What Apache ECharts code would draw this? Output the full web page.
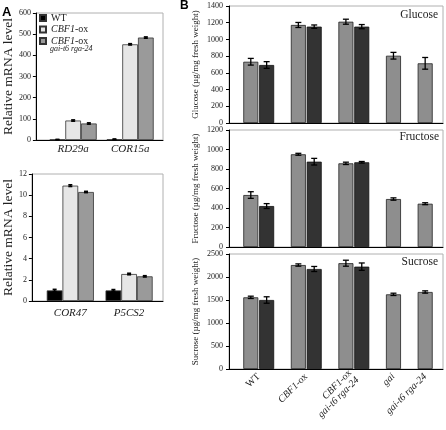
<!DOCTYPE html>
<html><head><meta charset="utf-8">
<script src="https://cdn.jsdelivr.net/npm/echarts@6/dist/echarts.min.js"></script>
<style>html,body{margin:0;padding:0;background:#fff}#c{width:446px;height:430px}</style>
</head><body><div id="c"></div>
<script>
// ---------- Panel A data ----------
const genesTop = ['RD29a', 'COR15a'];
const genesBottom = ['COR47', 'P5CS2'];
const seriesNamesA = ['WT', 'CBF1-ox', 'CBF1-ox gai-t6 rga-24'];
const topWT = [2, 3];
const topCBF = [92, 452];
const topCBFgai = [78, 484];
const topWTErr = [1, 2];
const topCBFErr = [3, 3];
const topCBFgaiErr = [3, 3];
const botWT = [1.0, 1.0];
const botCBF = [10.9, 2.55];
const botCBFgai = [10.3, 2.33];
const botWTErr = [0.1, 0.08];
const botCBFErr = [0.08, 0.07];
const botCBFgaiErr = [0.06, 0.06];
const ticksATop = [0, 100, 200, 300, 400, 500, 600];
const ticksABottom = [0, 2, 4, 6, 8, 10, 12];

// ---------- Panel B data ----------
const genotypes = ['WT', 'CBF1-ox', 'CBF1-ox\ngai-t6 rga-24', 'gai', 'gai-t6 rga-24'];
const glucoseLight = [733, 1173, 1212, 805, 714];
const glucoseLightErr = [40, 30, 30, 40, 70];
const glucoseDark = [694, 1153, 1153];
const glucoseDarkErr = [40, 20, 25];
const fructoseLight = [533, 951, 858, 492, 444];
const fructoseLightErr = [34, 10, 12, 12, 10];
const fructoseDark = [420, 875, 869];
const fructoseDarkErr = [25, 34, 8];
const sucroseLight = [1558, 2260, 2300, 1623, 1674];
const sucroseLightErr = [25, 25, 65, 25, 25];
const sucroseDark = [1500, 2174, 2225];
const sucroseDarkErr = [70, 55, 80];
const ticksGlucose = [0, 200, 400, 600, 800, 1000, 1200, 1400];
const ticksFructose = [0, 200, 400, 600, 800, 1000, 1200];
const ticksSucrose = [0, 500, 1000, 1500, 2000, 2500];

// ---------- layout (slot grids on category axes) ----------
const slotsA = 29, geneSlot = [8, 21];
const slotsB = 54, lightSlot = [5, 17, 29, 41, 49], darkSlot = [9, 21, 33], labelSlot = [7, 19, 31, 41, 49];
const barWA = 15.7, barWB = 15;
const SERIF = 'Liberation Serif';

function slotCats(n) { return Array.from({length: n}, (_, i) => 's' + i); }
function spread(n, slots, vals) { const a = Array(n).fill('-'); slots.forEach((s, i) => { if (i < vals.length) a[s] = vals[i]; }); return a; }
function errData(slots, vals, errs) { return vals.map((v, i) => [slots[i], v, errs[i]]); }
function richName(s) {
  return s.split('\n').map(line => {
    if (line === 'WT') return '{n|WT}';
    return line.replace(/CBF1-ox/, '{i|CBF1}{n|-ox}').replace(/^(?!\{)(.*)$/, '{i|$1}');
  }).join('\n');
}
function errRender(offset, cap, lw) {
  return function (params, api) {
    const x = api.value(0), v = api.value(1), e = api.value(2);
    const t = api.coord([x, v + e]), b = api.coord([x, v - e]);
    const cx = t[0] + offset;
    const st = {stroke: '#000', lineWidth: lw};
    return {type: 'group', children: [
      {type: 'line', shape: {x1: cx, y1: t[1], x2: cx, y2: b[1]}, style: st},
      {type: 'line', shape: {x1: cx - cap / 2, y1: t[1], x2: cx + cap / 2, y2: t[1]}, style: st},
      {type: 'line', shape: {x1: cx - cap / 2, y1: b[1], x2: cx + cap / 2, y2: b[1]}, style: st}
    ]};
  };
}

const gridBase = {show: true, borderColor: '#b0b0b0', borderWidth: 1, backgroundColor: 'transparent'};
const grids = [
  Object.assign({left: 30, top: 13, width: 133, height: 127}, gridBase),
  Object.assign({left: 30, top: 174, width: 133, height: 127}, gridBase),
  Object.assign({left: 229, top: 6, width: 214, height: 117}, gridBase),
  Object.assign({left: 229, top: 130, width: 214, height: 117}, gridBase),
  Object.assign({left: 229, top: 254, width: 214, height: 115}, gridBase)
];

const axisLine = {show: true, lineStyle: {color: '#000', width: 1}};
function yAx(gi, ticks, name, nameSize, nameGap, labelMargin, labelSize) {
  return {type: 'value', gridIndex: gi, min: ticks[0], max: ticks[ticks.length - 1], interval: ticks[1] - ticks[0],
    axisLine: axisLine, axisTick: {show: true, length: 3, lineStyle: {color: '#000'}}, splitLine: {show: false},
    axisLabel: {fontFamily: SERIF, fontSize: labelSize, color: '#222', margin: labelMargin, formatter: v => String(v)},
    name: name, nameLocation: 'middle', nameGap: nameGap,
    nameTextStyle: {fontFamily: SERIF, fontSize: nameSize, color: '#222'}};
}
const richStyles = {
  n: {fontFamily: SERIF, fontStyle: 'normal', fontSize: 10, color: '#222'},
  i: {fontFamily: SERIF, fontStyle: 'italic', fontSize: 10, color: '#222'},
  s: {fontFamily: SERIF, fontStyle: 'italic', fontSize: 8, color: '#222'}
};
function xAxA(gi, genes, margin) {
  return {type: 'category', gridIndex: gi, data: slotCats(slotsA), axisLine: axisLine, axisTick: {show: false},
    axisLabel: {interval: 0, margin: margin, fontFamily: SERIF, fontStyle: 'italic', fontSize: 11, color: '#222',
      formatter: (v, idx) => { const k = geneSlot.indexOf(idx); return k >= 0 ? genes[k] : ''; }}};
}
function xAxB(gi, showLabels) {
  return {type: 'category', gridIndex: gi, data: slotCats(slotsB), axisLine: axisLine, axisTick: {show: false},
    axisLabel: {show: showLabels, interval: 0, rotate: 45, margin: 6, fontFamily: SERIF, fontSize: 10, color: '#222',
      lineHeight: 10, rich: richStyles,
      formatter: (v, idx) => { const k = labelSlot.indexOf(idx); return k >= 0 ? richName(genotypes[k]) : ''; }}};
}

const colorsA = ['#000000', '#e6e6e6', '#9a9a9a'];
const series = [];
function addA(gi, vals, errs) {
  vals.forEach((arr, si) => {
    series.push({type: 'bar', name: seriesNamesA[si], xAxisIndex: gi, yAxisIndex: gi, barWidth: barWA, barGap: '0%',
      data: spread(slotsA, geneSlot, arr),
      itemStyle: {color: colorsA[si], borderColor: '#333', borderWidth: 0.8}});
  });
  errs.forEach((arr, si) => {
    series.push({type: 'custom', xAxisIndex: gi, yAxisIndex: gi, z: 5, encode: {x: 0, y: 1},
      renderItem: errRender((si - 1) * barWA, 4, 1.6), data: errData(geneSlot, vals[si], arr)});
  });
}
addA(0, [topWT, topCBF, topCBFgai], [topWTErr, topCBFErr, topCBFgaiErr]);
addA(1, [botWT, botCBF, botCBFgai], [botWTErr, botCBFErr, botCBFgaiErr]);

function addB(gi, light, lightErr, dark, darkErr) {
  series.push({type: 'bar', xAxisIndex: gi, yAxisIndex: gi, barWidth: barWB, barGap: '-100%',
    data: spread(slotsB, lightSlot, light), itemStyle: {color: '#8e8e8e', borderColor: '#222', borderWidth: 0.8}});
  series.push({type: 'bar', xAxisIndex: gi, yAxisIndex: gi, barWidth: barWB, barGap: '-100%',
    data: spread(slotsB, darkSlot, dark), itemStyle: {color: '#333333', borderColor: '#111', borderWidth: 0.8}});
  series.push({type: 'custom', xAxisIndex: gi, yAxisIndex: gi, z: 5, encode: {x: 0, y: 1},
    renderItem: errRender(0, 6, 1.3), data: errData(lightSlot, light, lightErr)});
  series.push({type: 'custom', xAxisIndex: gi, yAxisIndex: gi, z: 5, encode: {x: 0, y: 1},
    renderItem: errRender(0, 6, 1.3), data: errData(darkSlot, dark, darkErr)});
}
addB(2, glucoseLight, glucoseLightErr, glucoseDark, glucoseDarkErr);
addB(3, fructoseLight, fructoseLightErr, fructoseDark, fructoseDarkErr);
addB(4, sucroseLight, sucroseLightErr, sucroseDark, sucroseDarkErr);

const titleStyle = {fontFamily: SERIF, fontSize: 11.5, fontWeight: 'normal', color: '#222'};
const option = {
  animation: false,
  backgroundColor: '#fff',
  title: [
    {text: 'A', left: 2, top: 6, padding: 0, textStyle: {fontFamily: 'Liberation Sans', fontWeight: 'bold', fontSize: 13, color: '#000'}},
    {text: 'B', left: 180, top: 0, padding: 0, textStyle: {fontFamily: 'Liberation Sans', fontWeight: 'bold', fontSize: 12, color: '#000'}},
    {text: 'Glucose', right: 8, top: 9, padding: 0, textStyle: titleStyle},
    {text: 'Fructose', right: 7, top: 131, padding: 0, textStyle: titleStyle},
    {text: 'Sucrose', right: 8, top: 256, padding: 0, textStyle: titleStyle}
  ],
  legend: {
    data: seriesNamesA, orient: 'vertical', left: 39, top: 13, padding: 0, itemGap: 1.5,
    itemWidth: 6, itemHeight: 6, icon: 'rect', selectedMode: false,
    formatter: name => name === 'WT' ? '{n|WT}' : '{i|CBF1}{n|-ox}',
    textStyle: {fontFamily: SERIF, fontSize: 10, color: '#222', rich: richStyles}
  },
  graphic: [
    {type: 'text', left: 50, top: 45, style: {text: 'gai-t6 rga-24', font: 'italic 8px "Liberation Serif"', fill: '#222'}}
  ],
  grid: grids,
  xAxis: [xAxA(0, genesTop, 4), xAxA(1, genesBottom, 7), xAxB(2, false), xAxB(3, false), xAxB(4, true)],
  yAxis: [
    yAx(0, ticksATop, 'Relative mRNA level', 13.5, 15, 5, 8),
    yAx(1, ticksABottom, 'Relative mRNA level', 13.5, 15, 5, 8),
    yAx(2, ticksGlucose, 'Glucose (µg/mg fresh weight)', 9, 29, 6, 8),
    yAx(3, ticksFructose, 'Fructose (µg/mg fresh weight)', 9, 29, 6, 8),
    yAx(4, ticksSucrose, 'Sucrose (µg/mg fresh weight)', 9, 29, 6, 8)
  ],
  series: series
};
const chart = echarts.init(document.getElementById('c'), null, {renderer: 'canvas'});
chart.setOption(option);
</script></body></html>
